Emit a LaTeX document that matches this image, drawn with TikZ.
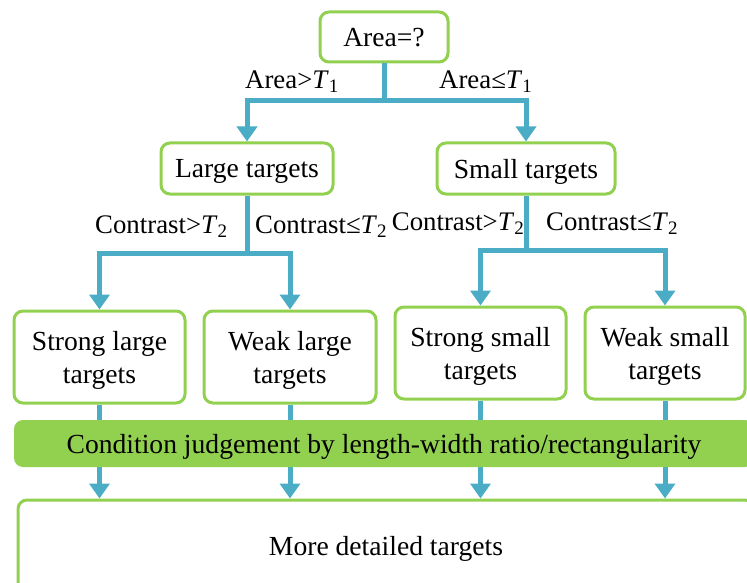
\documentclass[tikz,border=0pt]{standalone}
\usepackage{fontspec}
\setmainfont{Liberation Serif}
\usetikzlibrary{arrows.meta}
\definecolor{boxgreen}{HTML}{92D050}
\definecolor{flowblue}{HTML}{4BACC6}
\newcommand{\thr}[1]{\textit{T}\raisebox{-4pt}{\fontsize{19}{19}\selectfont #1}}

\begin{document}
\begin{tikzpicture}[x=1pt,y=-1pt,font=\fontsize{27.6}{33}\selectfont]
    \tikzstyle{level box}=[draw=boxgreen,line width=3pt,rounded corners=9pt,fill=white,align=center,inner sep=0pt,text depth=0pt]
    \tikzstyle{flow}=[draw=flowblue,line width=5pt]
    \tikzstyle{flow arrow}=[flow,-{Triangle[width=20pt,length=15pt]}]
    \tikzstyle{cond}=[anchor=base west,inner sep=0pt,font=\fontsize{26.8}{33}\selectfont]
    \useasboundingbox (0,0) rectangle (747,583);

    % Draw the area question
    \node[level box,minimum width=128pt,minimum height=50pt] (area) at (384,37) {Area=?};

    % Draw the size classes
    \node[level box,minimum width=172pt,minimum height=51pt] (large) at (247,168.5) {Large targets};
    \node[level box,minimum width=178pt,minimum height=51pt] (small) at (526,168.5) {Small targets};

    % Draw the contrast classes
    \foreach \name / \x / \y / \w / \txt in {sl/99.5/357/171/{Strong large\\targets},
                                            wl/290/357/172/{Weak large\\targets},
                                            ss/480.5/353/171/{Strong small\\targets},
                                            ws/665/353/160/{Weak small\\targets}}
        \node[level box,minimum width=\w pt,minimum height=92pt] (\name) at (\x,\y) {\txt};

    % Draw the final box
    \node[level box,minimum width=736pt,minimum height=92pt] (detail) at (386,546) {More detailed targets};

    % Split by area
    \coordinate (split1) at (384,101);
    \draw[flow] (area.south) -- (split1);
    \draw[flow arrow] (split1) -| (large.north);
    \draw[flow arrow] (split1) -| (small.north);

    % Split by contrast
    \coordinate (split2) at (247,253);
    \coordinate (split3) at (526,250);
    \draw[flow] (large.south) -- (split2);
    \draw[flow arrow] (split2) -| (sl.north);
    \draw[flow arrow] (split2) -| (wl.north);
    \draw[flow] (small.south) -- (split3);
    \draw[flow arrow] (split3) -| (ss.north);
    \draw[flow arrow] (split3) -| (ws.north);

    % Connect every contrast class with the final box
    \foreach \source in {sl,wl,ss,ws}
        \draw[flow arrow] (\source.south) -- (\source.south |- detail.north);

    % The judgement bar lies over the connectors
    \node[fill=boxgreen,rounded corners=9pt,text depth=0pt,inner sep=0pt,minimum width=740pt,minimum height=47pt] (judge) at (384,443.5) {Condition judgement by length-width ratio/rectangularity};

    % Annotate the splits
    \node[cond] (gt1) at (245,89) {Area>\thr{1}};
    \node[cond] (le1) at (439,89) {Area≤\thr{1}};
    \node[cond] (gt2) at (95,233) {Contrast>\thr{2}};
    \node[cond] (le2) at (255,233) {Contrast≤\thr{2}};
    \node[cond,anchor=base east] (gt3) at (524,230) {Contrast>\thr{2}};
    \node[cond] (le3) at (546,230) {Contrast≤\thr{2}};
\end{tikzpicture}
\end{document}
